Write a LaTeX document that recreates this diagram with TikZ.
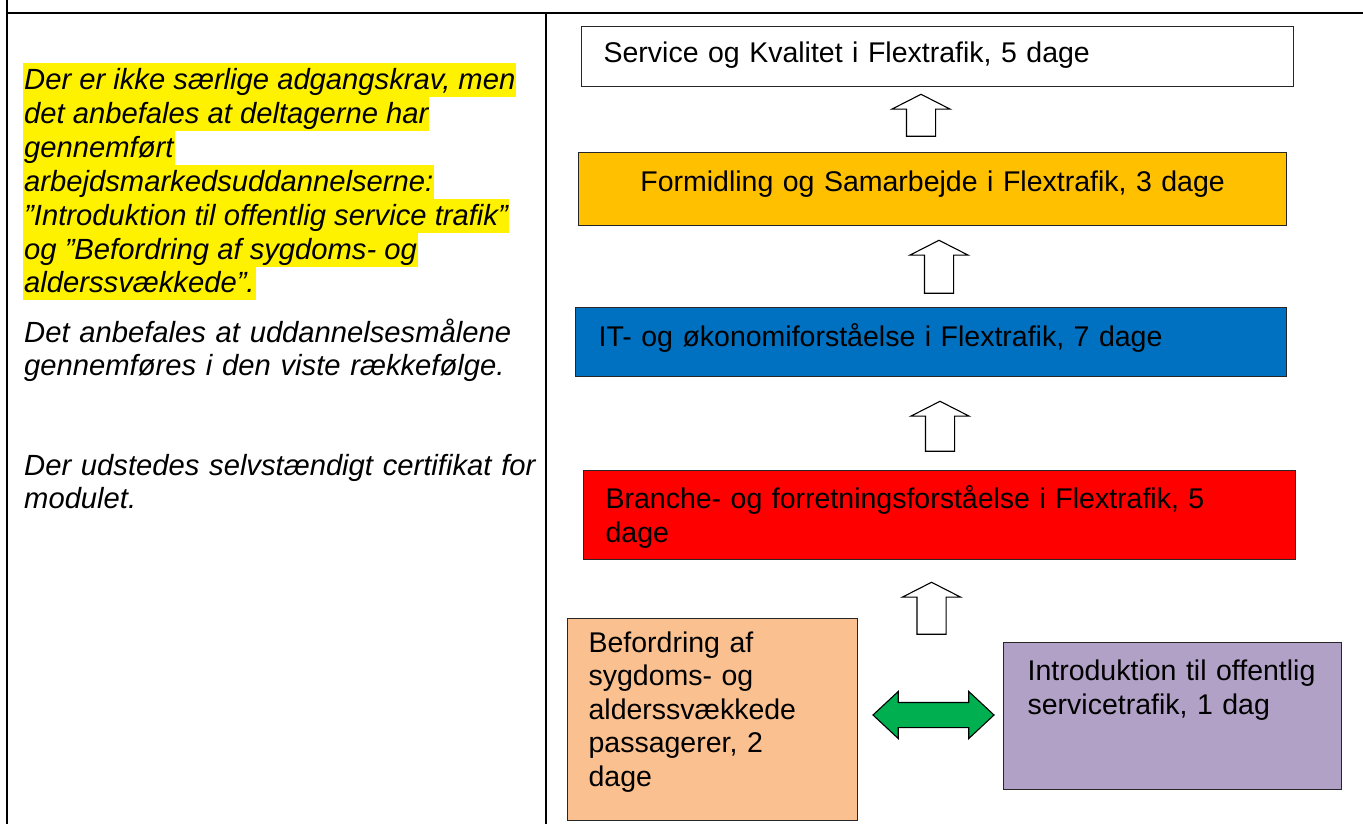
\documentclass[tikz,border=0pt]{standalone}
\usepackage{fontspec}
\setmainfont{Liberation Sans}
\usetikzlibrary{shapes.arrows, positioning}

\definecolor{formgold}{HTML}{FFC000}
\definecolor{itblue}{HTML}{0070C0}
\definecolor{branchered}{HTML}{FF0000}
\definecolor{peach}{HTML}{FAC090}
\definecolor{lilac}{HTML}{B2A1C7}
\definecolor{arrowgreen}{HTML}{00B050}
\newcommand\stagefont{\fontsize{28.5}{33.5}\selectfont}
\newcommand\notefont{\fontsize{29.2}{33.5}\selectfont\itshape}

\begin{document}
\begin{tikzpicture}[x=1pt, y=-1pt]
    % Define the styles
    \tikzset{
        frame/.style = {draw, line width=2.5pt},
        stage/.style = {draw=black!85, line width=1.2pt, anchor=north west, inner ysep=0, align=left, font=\stagefont},
        hl/.style = {fill=yellow, inner xsep=1pt, inner ysep=0, text height=26pt, text depth=7.5pt, font=\notefont},
        note/.style = {inner sep=0, anchor=base west, text width=515pt, align=left, font=\notefont},
        uparrow/.style = {single arrow, draw, fill=white, line width=1.1pt, shape border rotate=90, inner sep=14pt,
            single arrow head extend=14.5pt, single arrow tip angle=126, minimum height=#1},
        swap/.style = {double arrow, draw, fill=arrowgreen, line width=1.1pt, inner sep=12pt,
            double arrow head extend=11pt, double arrow tip angle=86, minimum height=121pt},
    }
    \useasboundingbox (0,0) rectangle (1363,824);

    % Table lines
    \draw[frame] (7,0) -- (7,824);
    \draw[frame] (7,13) -- (1363,13);
    \draw[frame] (546,13) -- (546,824);

    % Left column, highlighted lines
    \node[hl, anchor=base west] (l1) at (23,89.5) {Der er ikke særlige adgangskrav, men};
    \node[hl, below right=0pt and 0pt of l1.south west] (l2) {det anbefales at deltagerne har};
    \node[hl, below right=0pt and 0pt of l2.south west] (l3) {gennemført};
    \node[hl, below right=0pt and 0pt of l3.south west] (l4) {arbejdsmarkedsuddannelserne:};
    \node[hl, below right=0pt and 0pt of l4.south west] (l5) {”Introduktion til offentlig service trafik”};
    \node[hl, below right=0pt and 0pt of l5.south west] (l6) {og ”Befordring af sygdoms- og};
    \node[hl, below right=0pt and 0pt of l6.south west] (l7) {alderssvækkede”.};

    \node[note] (order) at (24,342) {Det anbefales at uddannelsesmålene\\gennemføres i den viste rækkefølge.};
    \node[note] (cert) at (24,475) {Der udstedes selvstændigt certifikat for\\modulet.};

    % Course boxes
    \node[stage, fill=white, minimum width=712pt, minimum height=60pt, inner xsep=22pt, text width=668pt,
        text height=35.7pt, text depth=24.3pt] (service) at (581,26) {Service og Kvalitet i Flextrafik, 5 dage};
    \node[stage, fill=formgold, align=center, minimum width=708pt, minimum height=73pt, inner xsep=22pt, text width=664pt,
        text height=39pt, text depth=34pt] (formid) at (578,152) {Formidling og Samarbejde i Flextrafik, 3 dage};
    \node[stage, fill=itblue, minimum width=711pt, minimum height=69pt, inner xsep=23pt, text width=665pt,
        text height=39pt, text depth=30pt] (it) at (575,307) {IT- og økonomiforståelse i Flextrafik, 7 dage};
    \node[stage, fill=branchered, minimum width=712pt, minimum height=89pt, inner xsep=22pt, text width=668pt,
        text height=38pt, text depth=51pt] (branche) at (583,470) {Branche- og forretningsforståelse i Flextrafik, 5\\dage};
    \node[stage, fill=peach, minimum width=290pt, minimum height=202pt, inner xsep=21pt, text width=248pt,
        text height=33.7pt, text depth=168.3pt] (befordring) at (567,618) {Befordring af\\sygdoms- og\\alderssvækkede\\passagerer, 2\\dage};
    \node[stage, fill=lilac, minimum width=338pt, minimum height=147pt, inner xsep=24pt, text width=290pt,
        text height=38pt, text depth=109pt] (intro) at (1003,642) {Introduktion til offentlig\\servicetrafik, 1 dag};

    % Block arrows
    \node[uparrow=42pt] (up1) at (921,119) {};
    \node[uparrow=53pt] (up2) at (939,270.5) {};
    \node[uparrow=50pt] (up3) at (940,430) {};
    \node[uparrow=52pt] (up4) at (931.5,612) {};
    \node[swap] (both) at (933.5,715) {};

\end{tikzpicture}
\end{document}
